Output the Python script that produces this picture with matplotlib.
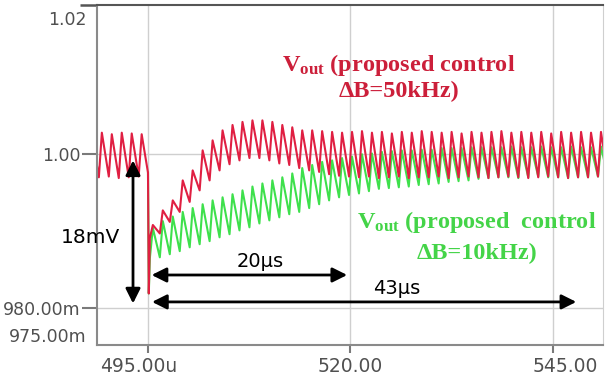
import numpy as np
import matplotlib.pyplot as plt
from matplotlib.transforms import ScaledTranslation

plt.rcParams['mathtext.fontset'] = 'custom'
plt.rcParams['mathtext.rm'] = 'Liberation Serif:bold'
plt.rcParams['mathtext.it'] = 'Liberation Serif:bold'
plt.rcParams['mathtext.bf'] = 'Liberation Serif:bold'

# ripple period (us) and times of the first peaks before / after the load step
period = 1.23
t_step = 495.0
first_peak_pre = 488.07
first_peak_post = 495.6

# output voltage in mV, one peak / trough per ripple cycle
pre_peak = [1002.7, 1002.8, 1002.6, 1002.8, 1002.7, 1002.6]
pre_trough = [997.0, 997.0, 997.1, 996.9, 997.0, 997.1]
before_step = 997.6
dip = 981.9

# Vout, proposed control, dB = 50 kHz
red_peak = [990.8, 992.7, 994.0, 996.6, 997.9, 1000.5, 1001.8, 1003.1, 1003.8, 1004.2,
            1004.4, 1004.4, 1004.2, 1003.8, 1003.5, 1003.1, 1003.1, 1003.0, 1002.9, 1002.8,
            1002.9, 1003.0, 1002.8, 1002.9, 1002.7, 1002.9, 1002.8, 1003.0, 1002.9, 1002.8,
            1002.9, 1002.7, 1002.9, 1002.8, 1002.9, 1003.0, 1002.8, 1002.9, 1002.8, 1002.9,
            1002.7, 1002.9, 1002.8, 1002.9, 1002.8, 1002.9, 1002.8]
red_trough = [989.1, 989.7, 991.2, 992.5, 993.8, 995.3, 996.6, 997.9, 998.7, 999.2,
              999.5, 999.5, 999.2, 998.8, 998.6, 998.2, 997.9, 997.7, 997.4, 997.2,
              997.1, 997.0, 997.1, 996.9, 997.0, 997.1, 996.9, 997.0, 997.0, 997.1,
              996.9, 997.0, 997.1, 997.0, 996.9, 997.0, 997.1, 997.0, 996.9, 997.0,
              997.1, 997.0, 996.9, 997.0, 997.0, 997.1, 997.0]

# Vout, proposed control, dB = 10 kHz
green_peak = [990.4, 991.3, 991.9, 992.5, 993.0, 993.5, 994.0, 994.4, 994.8, 995.3,
              995.8, 996.2, 996.6, 997.0, 997.5, 998.2, 998.6, 999.0, 999.2, 999.5,
              999.7, 1000.0, 1000.1, 1000.3, 1000.4, 1000.5, 1000.5, 1000.6, 1000.6, 1000.8,
              1000.8, 1000.8, 1000.9, 1000.9, 1000.9, 1000.9, 1001.0, 1000.9, 1000.9, 1001.0,
              1000.9, 1000.9, 1001.0, 1000.9, 1000.9, 1001.0, 1000.9]
green_trough = [986.5, 986.6, 987.0, 987.4, 987.9, 988.3, 988.7, 989.2, 989.6, 990.1,
                990.5, 991.0, 991.4, 991.8, 992.2, 992.5, 993.0, 993.5, 994.0, 994.4,
                994.7, 994.9, 995.2, 995.5, 995.6, 995.7, 995.8, 996.0, 996.1, 996.2,
                996.4, 996.5, 996.6, 996.8, 996.9, 997.0, 997.0, 996.9, 997.0, 997.1,
                997.0, 997.0, 996.9, 997.0, 997.0, 997.1, 997.0]

xticks = [495, 520, 545]
xlabels = ['495.00u', '520.00', '545.00']
yticks = [980, 1000]
ylabels = ['980.00m', '1.00']


def ripple(t0, peaks, troughs):
    # sawtooth: trough -> fast rise to peak -> slow fall to next trough
    t, v = [], []
    for k, (p, tr) in enumerate(zip(peaks, troughs)):
        tp = t0 + k * period
        t += [tp - 0.3 * period, tp]
        v += [tr, p]
    return t, v


t_pre, v_pre = ripple(first_peak_pre, pre_peak, pre_trough)
t_red, v_red = ripple(first_peak_post, red_peak, red_trough)
t_grn, v_grn = ripple(first_peak_post, green_peak, green_trough)

t_red = t_pre + [t_step, t_step + 0.1] + t_red
v_red = v_pre + [before_step, dip] + v_red
t_grn = [t_step, t_step + 0.1] + t_grn
v_grn = [before_step, dip] + v_grn

fig = plt.figure(figsize=(6.05, 3.75), dpi=100)
ax = fig.add_axes([0.1603, 0.08, 0.8364, 0.9067])

ax.plot(t_grn, v_grn, color='#3ee04c', lw=1.5)
ax.plot(t_red, v_red, color='#e01f42', lw=1.5)

ax.set_xlim(488.7, 551.2)
ax.set_ylim(975.2, 1019.4)
ax.set_xticks(xticks)
ax.set_xticklabels(xlabels)
ax.set_yticks(yticks)
ax.set_yticklabels(ylabels)
ax.set_yticks([1019.4], minor=True)
ax.grid(True, color='#cfcfcf', lw=1)
ax.tick_params(axis='both', colors='#7a7a7a', labelcolor='#505050', labelsize=13.5, width=1.5)
ax.tick_params(axis='y', length=11, pad=1, labelsize=12.5)
ax.tick_params(axis='y', which='minor', length=12, width=1.8, color='#555555')
ax.tick_params(axis='x', length=6, pad=3)
for side in ['left', 'bottom']:
    ax.spines[side].set_color('#8a8a8a')
    ax.spines[side].set_linewidth(1.5)
ax.spines['top'].set_color('#555555')
ax.spines['top'].set_linewidth(1.5)
ax.spines['right'].set_color('#cfcfcf')

# shift the x tick labels like in the original screenshot
for lab, dx in zip(ax.get_xticklabels(), [-9, 0, 12]):
    lab.set_transform(lab.get_transform() + ScaledTranslation(dx / 100, 0, fig.dpi_scale_trans))

ax.text(-0.02, 0.956, '1.02', transform=ax.transAxes, ha='right', va='center',
        fontsize=12.5, color='#505050')
ax.text(-0.02, 0.024, '975.00m', transform=ax.transAxes, ha='right', va='center',
        fontsize=12.5, color='#505050')

arrow = dict(arrowstyle='<|-|>', mutation_scale=22, lw=2, color='black', shrinkA=0, shrinkB=0)
ax.annotate('', xy=(493.15, 980.6), xytext=(493.15, 999.2), arrowprops=arrow)
ax.annotate('', xy=(519.6, 984.3), xytext=(495.45, 984.3), arrowprops=arrow)
ax.annotate('', xy=(547.9, 980.8), xytext=(495.5, 980.8), arrowprops=arrow)

ax.text(487.9, 989.2, '18mV', ha='center', va='center', fontsize=14.5, clip_on=False)
ax.text(508.8, 986.0, '20µs', ha='center', va='center', fontsize=14)
ax.text(525.7, 982.6, '43µs', ha='center', va='center', fontsize=14)

serif = dict(family='Liberation Serif', weight='bold', fontsize=17.5, ha='center', va='center')
ax.text(526.0, 1011.6, r'V$_{\rm out}$ (proposed control', color='#cc1f3a', **serif)
ax.text(526.0, 1008.1, 'ΔB=50kHz)', color='#cc1f3a', **serif)
ax.text(535.6, 991.2, r'V$_{\rm out}$ (proposed  control', color='#44d448', **serif)
ax.text(535.6, 987.1, 'ΔB=10kHz)', color='#44d448', **serif)

fig.savefig('out.png', dpi=100)
